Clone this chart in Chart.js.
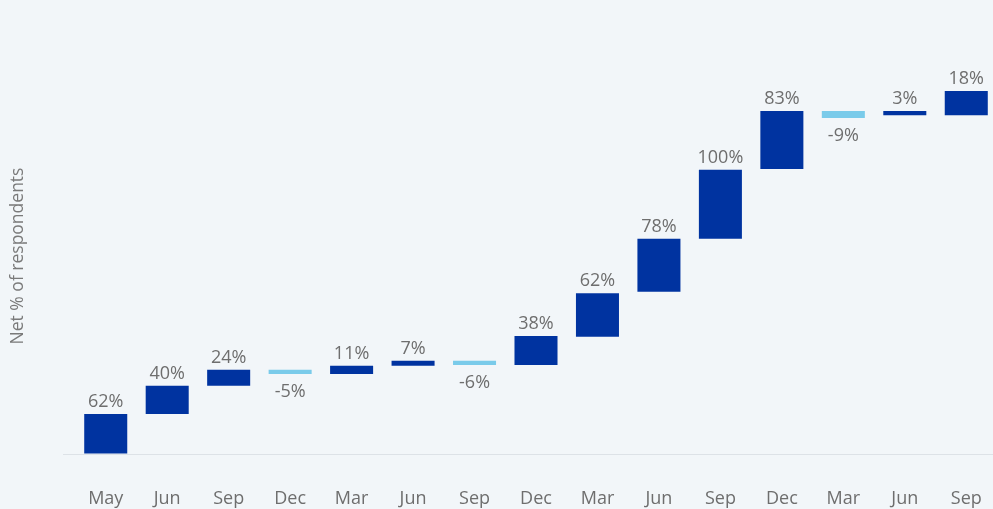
<!DOCTYPE html>
<html>
<head>
<meta charset="utf-8">
<script src="https://cdn.jsdelivr.net/npm/chart.js@4"></script>
<style>
  html, body { margin: 0; padding: 0; background: #f2f6f9; overflow: hidden; }
  #wrap { width: 997px; height: 509px; }
</style>
</head>
<body>
<div id="wrap"><canvas id="graphe"></canvas></div>
<script>
// months on the x axis
let mois = ['May', 'Jun', 'Sep', 'Dec', 'Mar', 'Jun', 'Sep', 'Dec', 'Mar', 'Jun', 'Sep', 'Dec', 'Mar', 'Jun', 'Sep']
// the printed change for each step
let variations = [62, 40, 24, -5, 11, 7, -6, 38, 62, 78, 100, 83, -9, 3, 18]
// where each floating bar starts and ends (net % scale)
let debuts = [0, 58, 99, 116, 116, 128, 129, 129, 170, 235, 312, 413, 487, 491, 491]
let fins = [58, 99, 122, 122, 128, 135, 135, 171, 233, 312, 412, 497, 497, 497, 526]

let bleuFonce = '#0033a0'
let bleuClair = '#7acbea'

let barres = []
let couleurs = []
for (let i = 0; i < mois.length; i++) {
  barres.push([debuts[i], fins[i]])
  couleurs.push(variations[i] < 0 ? bleuClair : bleuFonce)
}

// writes the % above a rise and below a fall
const etiquettes = {
  id: 'etiquettes',
  afterDatasetsDraw(chart) {
    const c = chart.ctx
    const meta = chart.getDatasetMeta(0)
    const y = chart.scales.y
    c.save()
    c.font = '18px "Open Sans"'
    c.fillStyle = '#6e6e6e'
    c.textAlign = 'center'
    c.textBaseline = 'alphabetic'
    meta.data.forEach((bar, i) => {
      const txt = variations[i] + '%'
      if (variations[i] >= 0) {
        c.fillText(txt, bar.x, y.getPixelForValue(fins[i]) - 7)
      } else {
        c.fillText(txt, bar.x, y.getPixelForValue(debuts[i]) + 23)
      }
    })
    c.restore()
  }
}

Chart.defaults.font.family = '"Open Sans"'
const ctx = document.getElementById('graphe')
new Chart(ctx, {
  type: 'bar',
  data: {
    labels: mois,
    datasets: [{
      data: barres,
      backgroundColor: couleurs,
      borderWidth: 0,
      borderSkipped: false,
      barPercentage: 0.7,
      categoryPercentage: 1
    }]
  },
  options: {
    responsive: true,
    maintainAspectRatio: false,
    animation: false,
    layout: { padding: { top: 58, right: 0, left: 0, bottom: 0 } },
    plugins: {
      legend: { display: false },
      tooltip: { enabled: false }
    },
    scales: {
      x: {
        grid: { display: false, drawTicks: true, tickLength: 30 },
        border: { display: false },
        ticks: { color: '#6e6e6e', font: { size: 18 }, padding: 4, maxRotation: 0 },
        afterFit: (s) => { s.height = 55 }
      },
      y: {
        min: 0,
        max: 574,
        ticks: { display: false, stepSize: 574 },
        border: { display: false },
        grid: {
          color: (c) => c.tick.value === 0 ? '#dde2e7' : 'transparent',
          drawTicks: true,
          tickLength: 12,
          lineWidth: 1
        },
        title: {
          display: true,
          text: 'Net % of respondents',
          color: '#7a7a7a',
          font: { size: 17.5 },
          padding: { top: 8, bottom: 0 }
        },
        afterFit: (s) => { s.width = 75 }
      }
    }
  },
  plugins: [etiquettes]
})
</script>
</body>
</html>
